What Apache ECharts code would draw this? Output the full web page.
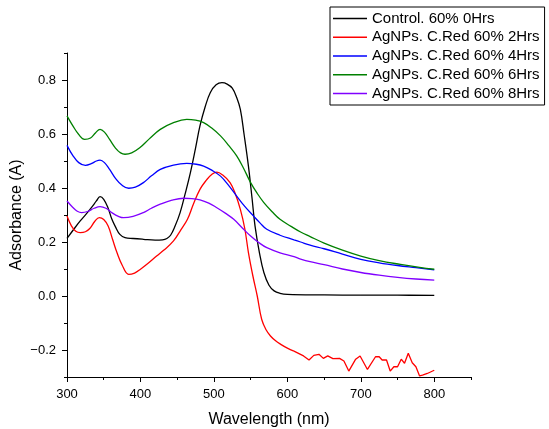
<!DOCTYPE html>
<html>
<head>
<meta charset="utf-8">
<script src="https://cdn.jsdelivr.net/npm/echarts@6/dist/echarts.min.js"></script>
<style>
html,body{margin:0;padding:0;background:#fff;}
#c{width:549px;height:429px;}
</style>
</head>
<body>
<div id="c"></div>
<script>
var seriesNames = ['Control. 60% 0Hrs','AgNPs. C.Red 60% 2Hrs','AgNPs. C.Red 60% 4Hrs','AgNPs. C.Red 60% 6Hrs','AgNPs. C.Red 60% 8Hrs'];
var xMajorTicks = [300,400,500,600,700,800];
var xMinorTicks = [350,450,550,650,750,850];
var yMajorTicks = [-0.2,0,0.2,0.4,0.6,0.8];
var yMinorTicks = [-0.3,-0.1,0.1,0.3,0.5,0.7,0.9];

var control0 = [[300,0.213],[310,0.250],[318,0.278],[326,0.303],[334,0.330],[340,0.352],[345,0.368],[350,0.358],[356,0.325],[361,0.285],[366,0.256],[372,0.228],[379,0.216],[390,0.213],[404,0.210],[420,0.207],[430,0.208],[436,0.213],[441,0.225],[447,0.258],[454,0.309],[461,0.380],[468,0.457],[475,0.548],[481,0.630],[488,0.700],[495,0.753],[503,0.782],[511,0.790],[518,0.785],[525,0.770],[531,0.735],[536,0.691],[541,0.600],[547,0.481],[552,0.360],[556,0.259],[562,0.160],[568,0.087],[575,0.040],[582,0.019],[590,0.010],[600,0.006],[650,0.004],[700,0.003],[750,0.003],[800,0.002]];
var red2Smooth = [[300,0.296],[306,0.260],[312,0.240],[318,0.235],[325,0.238],[331,0.250],[338,0.277],[344,0.290],[350,0.283],[356,0.259],[362,0.210],[368,0.161],[375,0.115],[384,0.080],[392,0.085],[400,0.099],[410,0.120],[422,0.148],[432,0.170],[445,0.204],[455,0.245],[464,0.284],[472,0.340],[481,0.395],[490,0.430],[497,0.450],[504,0.459],[512,0.448],[522,0.420],[529,0.380],[536,0.321],[542,0.250],[547,0.161],[553,0.075],[559,0.0],[565,-0.086],[571,-0.125],[577,-0.148],[584,-0.166],[591,-0.179],[600,-0.193],[609,-0.204]];
var red2Noisy = [[609,-0.204],[622,-0.222],[629.5,-0.237],[636,-0.220],[643,-0.216],[649,-0.231],[655,-0.222],[662,-0.232],[671,-0.231],[677,-0.241],[683.6,-0.278],[693,-0.234],[699,-0.222],[709,-0.272],[720,-0.225],[725,-0.225],[729,-0.237],[735,-0.237],[740,-0.278],[745,-0.262],[750,-0.262],[755,-0.234],[759.5,-0.249],[764.6,-0.212],[770,-0.247],[775,-0.262],[780,-0.296],[784,-0.293],[790.5,-0.287],[800,-0.275]];
var blue4 = [[300,0.558],[308,0.520],[316,0.494],[325,0.484],[333,0.490],[340,0.500],[345,0.503],[351,0.494],[358,0.469],[366,0.436],[375,0.410],[384,0.399],[393,0.403],[404,0.420],[415,0.445],[427,0.469],[445,0.485],[463,0.491],[476,0.488],[486,0.481],[497,0.466],[509,0.444],[520,0.410],[531,0.370],[542,0.332],[554,0.296],[563,0.270],[572,0.247],[590,0.225],[609,0.208],[618,0.200],[631,0.188],[650,0.175],[675,0.155],[700,0.136],[725,0.123],[750,0.113],[775,0.105],[800,0.097]];
var green6 = [[300,0.667],[308,0.630],[316,0.598],[324,0.580],[332,0.585],[339,0.605],[345,0.617],[351,0.607],[358,0.580],[366,0.548],[373,0.530],[379,0.525],[388,0.530],[399,0.549],[412,0.582],[427,0.617],[445,0.642],[463,0.654],[475,0.651],[486,0.642],[497,0.622],[509,0.593],[520,0.558],[531,0.519],[540,0.475],[550,0.420],[559,0.380],[568,0.346],[580,0.310],[590,0.284],[605,0.258],[618,0.237],[631,0.220],[650,0.196],[675,0.170],[700,0.148],[725,0.131],[754,0.117],[780,0.106],[800,0.099]];
var purple8 = [[300,0.352],[308,0.328],[314,0.314],[320,0.309],[328,0.313],[337,0.325],[345,0.331],[353,0.325],[362,0.307],[370,0.295],[377,0.290],[390,0.295],[404,0.309],[415,0.325],[427,0.340],[443,0.355],[459,0.362],[470,0.361],[481,0.356],[493,0.344],[504,0.327],[516,0.306],[527,0.284],[538,0.254],[550,0.222],[561,0.198],[572,0.179],[590,0.160],[609,0.146],[618,0.137],[631,0.127],[650,0.116],[675,0.100],[700,0.087],[725,0.077],[750,0.069],[775,0.063],[800,0.059]];

var colors = ['#000000','#ff0000','#0000ff','#008000','#8000ff'];
var FONT = 'Liberation Sans, Arial, sans-serif';

function lineSeries(name, data, color, smooth) {
  return {
    type: 'line', name: name, data: data, smooth: smooth,
    symbol: 'none', showSymbol: false,
    lineStyle: {color: color, width: 1.3},
    itemStyle: {color: color},
    xAxisIndex: 0, yAxisIndex: 0,
    animation: false
  };
}

var chart = echarts.init(document.getElementById('c'), null, {renderer: 'canvas'});
chart.setOption({
  animation: false,
  backgroundColor: '#fff',
  grid: {left: 67, right: 78, top: 53, bottom: 52, containLabel: false, outerBoundsMode: 'none'},
  legend: {
    data: seriesNames,
    orient: 'vertical',
    left: 330, top: 7,
    padding: [4, 5, 4, 3],
    icon: 'rect',
    itemWidth: 34, itemHeight: 1.4, itemGap: 3.75,
    borderColor: '#000', borderWidth: 1, backgroundColor: '#fff',
    textStyle: {fontFamily: FONT, fontSize: 15, color: '#000', lineHeight: 15},
    selectedMode: false
  },
  xAxis: [{
    type: 'value', min: 300, max: 850,
    name: 'Wavelength (nm)', nameLocation: 'middle', nameGap: 35, nameMoveOverlap: false,
    nameTextStyle: {fontFamily: FONT, fontSize: 16, color: '#000'},
    axisLine: {show: true, onZero: false, lineStyle: {color: '#000', width: 1}},
    splitLine: {show: false},
    axisTick: {show: true, length: 5, customValues: xMajorTicks, lineStyle: {color: '#000'}},
    axisLabel: {show: true, customValues: xMajorTicks, margin: 11, fontFamily: FONT, fontSize: 13, color: '#000'}
  }, {
    type: 'value', min: 300, max: 850, position: 'bottom',
    axisLine: {show: false, onZero: false}, splitLine: {show: false},
    axisTick: {show: true, length: 3, customValues: xMinorTicks, lineStyle: {color: '#000'}},
    axisLabel: {show: false}
  }],
  yAxis: [{
    type: 'value', min: -0.3, max: 0.9,
    name: 'Adsorbance (A)', nameLocation: 'middle', nameGap: 42, nameMoveOverlap: false,
    nameTextStyle: {fontFamily: FONT, fontSize: 16, color: '#000'},
    axisLine: {show: true, onZero: false, lineStyle: {color: '#000', width: 1}},
    splitLine: {show: false},
    axisTick: {show: true, length: 5, customValues: yMajorTicks, lineStyle: {color: '#000'}},
    axisLabel: {show: true, customValues: yMajorTicks, margin: 11, fontFamily: FONT, fontSize: 13, color: '#000',
      formatter: function (v) { return v.toFixed(1).replace('-', '\u2212'); }}
  }, {
    type: 'value', min: -0.3, max: 0.9, position: 'left',
    axisLine: {show: false, onZero: false}, splitLine: {show: false},
    axisTick: {show: true, length: 3, customValues: yMinorTicks, lineStyle: {color: '#000'}},
    axisLabel: {show: false}
  }],
  series: [
    lineSeries(seriesNames[0], control0, colors[0], 0.4),
    lineSeries(seriesNames[1], red2Smooth, colors[1], 0.4),
    lineSeries(seriesNames[1], red2Noisy, colors[1], false),
    lineSeries(seriesNames[2], blue4, colors[2], 0.4),
    lineSeries(seriesNames[3], green6, colors[3], 0.4),
    lineSeries(seriesNames[4], purple8, colors[4], 0.4)
  ]
});
</script>
</body>
</html>
